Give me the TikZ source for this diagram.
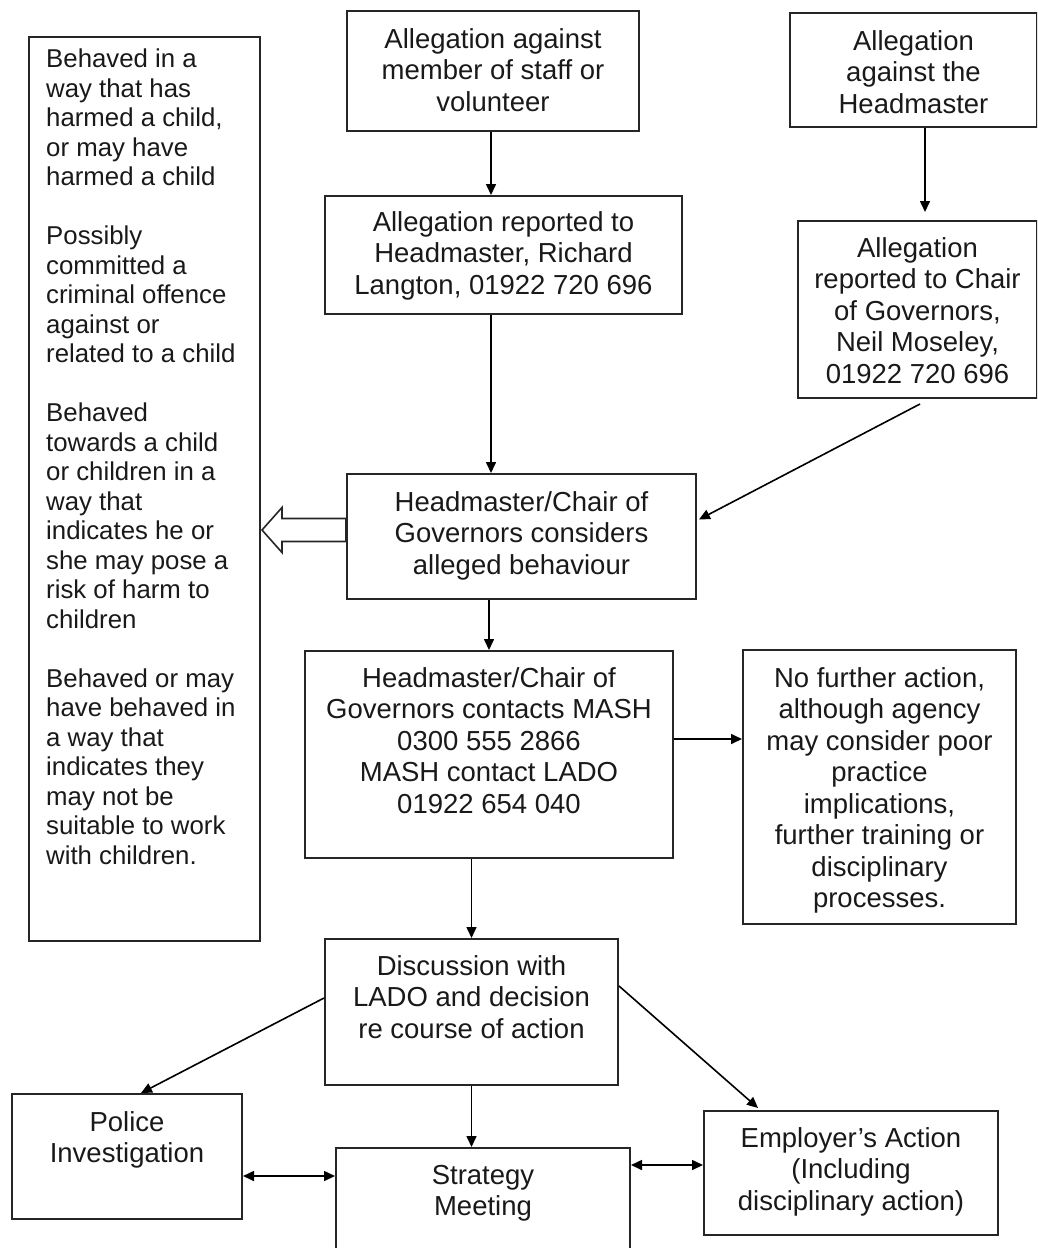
\documentclass[tikz,border=0pt]{standalone}
\usepackage{fontspec}
\setmainfont{Liberation Sans}
\usetikzlibrary{arrows.meta}
\begin{document}
\begin{tikzpicture}[x=1pt,y=-1pt,
  box/.style={draw=black!85,line width=2pt,rectangle,inner sep=0pt,anchor=north west},
  txt/.style={inner sep=0pt,anchor=north,align=center,font=\fontsize{27.5}{31.5}\selectfont,text=black!90},
  ltxt/.style={inner sep=0pt,anchor=north west,align=left,font=\fontsize{25.8}{29.5}\selectfont,text=black!90},
  arr/.style={line width=1.6pt,-{Triangle[length=11pt,width=10pt]}},
  darr/.style={line width=1.6pt,{Triangle[length=11pt,width=10pt]}-{Triangle[length=11pt,width=10pt]}},
  hollow/.style={line width=1.6pt,draw=black!85,fill=white,line join=miter}]
\useasboundingbox (0,0) rectangle (1037,1248);
\clip (0,0) rectangle (1037,1248);
% boxes
\node[box,minimum width=231pt,minimum height=904pt] (L) at (28,36) {};
\node[box,minimum width=292pt,minimum height=120pt] (A) at (346,10) {};
\node[box,minimum width=247pt,minimum height=114pt] (B) at (789,12) {};
\node[box,minimum width=357pt,minimum height=118pt] (C) at (324,195) {};
\node[box,minimum width=239pt,minimum height=177pt] (D) at (797,220) {};
\node[box,minimum width=349pt,minimum height=125pt] (E) at (346,473) {};
\node[box,minimum width=368pt,minimum height=207pt] (F) at (304,650) {};
\node[box,minimum width=273pt,minimum height=274pt] (G) at (742,649) {};
\node[box,minimum width=293pt,minimum height=146pt] (H) at (324,938) {};
\node[box,minimum width=230pt,minimum height=125pt] (I) at (11,1093) {};
\node[box,minimum width=294pt,minimum height=140pt] (J) at (335,1147) {};
\node[box,minimum width=294pt,minimum height=124pt] (K) at (703,1110) {};
% texts
\node[ltxt] (Lt) at (46,49) {Behaved in a\\way that has\\harmed a child,\\or may have\\harmed a child\\[29.5pt]
Possibly\\committed a\\criminal offence\\against or\\related to a child\\[29.5pt]
Behaved\\towards a child\\or children in a\\way that\\indicates he or\\she may pose a\\risk of harm to\\children\\[29.5pt]
Behaved or may\\have behaved in\\a way that\\indicates they\\may not be\\suitable to work\\with children.};
\node[txt] (At) at ([yshift=-18pt]A.north) {Allegation against\\member of staff or\\volunteer};
\node[txt] (Bt) at ([yshift=-18pt]B.north) {Allegation\\against the\\Headmaster};
\node[txt] (Ct) at ([yshift=-16pt]C.north) {Allegation reported to\\Headmaster, Richard\\Langton, 01922 720 696};
\node[txt] (Dt) at ([yshift=-17pt]D.north) {Allegation\\reported to Chair\\of Governors,\\Neil Moseley,\\01922 720 696};
\node[txt] (Et) at ([yshift=-18pt]E.north) {Headmaster/Chair of\\Governors considers\\alleged behaviour};
\node[txt] (Ft) at ([yshift=-17pt]F.north) {Headmaster/Chair of\\Governors contacts MASH\\0300 555 2866\\MASH contact LADO\\01922 654 040};
\node[txt] (Gt) at ([yshift=-18pt]G.north) {No further action,\\although agency\\may consider poor\\practice\\implications,\\further training or\\disciplinary\\processes.};
\node[txt] (Ht) at ([yshift=-17pt]H.north) {Discussion with\\LADO and decision\\re course of action};
\node[txt] (It) at ([yshift=-18pt]I.north) {Police\\Investigation};
\node[txt] (Jt) at ([yshift=-18pt]J.north) {Strategy\\Meeting};
\node[txt] (Kt) at ([yshift=-17pt]K.north) {Employer’s Action\\(Including\\disciplinary action)};
% helper coordinates
\coordinate (fg) at ([yshift=15.5pt]F.east);
\coordinate (ij) at ([yshift=-19.5pt]I.east);
\coordinate (jk) at ([yshift=8pt]K.west);
% connectors
\draw[arr] ([xshift=-2pt]A.south) -- ([xshift=-2pt]A.south |- C.north);
\draw[arr] ([xshift=11.5pt]B.south) -- ([xshift=11.5pt,yshift=8pt]B.south |- D.north);
\draw[arr] ([xshift=-12.5pt]C.south) -- ([xshift=-12.5pt]C.south |- E.north);
\draw[arr] ([xshift=2.5pt,yshift=-5pt]D.south) -- ([xshift=2pt,yshift=17pt]E.east);
\draw[hollow] ([yshift=7pt]E.west) ++(0,-11) -- ++(-64,0) -- ++(0,-11) -- ++(-20,22.5) -- ++(20,22.5) -- ++(0,-11) -- ++(64,0) -- cycle;
\draw[arr] (F.north |- E.south) -- (F.north);
\draw[arr] (fg) -- (G.west |- fg);
\draw[arr] (H.north |- F.south) -- (H.north);
\draw[arr] ([yshift=14pt]H.west) -- ([xshift=14pt]I.north);
\draw[arr] ([yshift=26pt]H.east) -- ([xshift=-93pt,yshift=2pt]K.north);
\draw[arr] (H.south) -- (H.south |- J.north);
\draw[darr] (ij) -- (J.west |- ij);
\draw[darr] (J.east |- jk) -- (jk);
\end{tikzpicture}
\end{document}
